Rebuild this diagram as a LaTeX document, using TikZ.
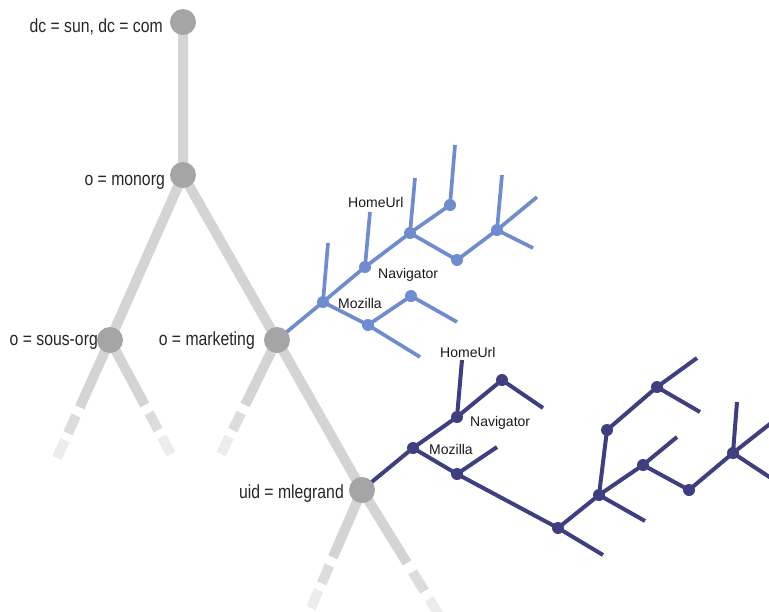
\documentclass[tikz,border=0pt]{standalone}
\usepackage{fontspec}
\setmainfont{Liberation Sans}
\newfontfamily\condfont[FakeStretch=0.83]{Liberation Sans}
\usetikzlibrary{calc}
\definecolor{treegrey}{RGB}{212,212,212}
\definecolor{nodegrey}{RGB}{165,165,165}
\definecolor{fadeA}{RGB}{220,220,220}
\definecolor{fadeB}{RGB}{236,236,236}
\definecolor{mozblue}{RGB}{112,140,208}
\definecolor{uidblue}{RGB}{62,62,128}
\pgfdeclarelayer{bg}
\pgfsetlayers{bg,main}

\begin{document}
\begin{tikzpicture}[x=1pt,y=-1pt,
  gnode/.style={circle,fill=nodegrey,minimum size=26pt,inner sep=0pt},
  bnode/.style={circle,fill=mozblue,minimum size=12pt,inner sep=0pt},
  dnode/.style={circle,fill=uidblue,minimum size=12pt,inner sep=0pt},
  glabel/.style={font=\condfont\fontsize{19}{19}\selectfont,text=black!85,inner sep=0pt,anchor=base east},
  tlabel/.style={font=\fontsize{14}{15}\selectfont,text=black!90,inner sep=0pt,anchor=base west},
  gedge/.style={treegrey,line width=10pt},
  bedge/.style={mozblue,line width=3.7pt},
  dedge/.style={uidblue,line width=4pt}]
  \useasboundingbox (0,0) rectangle (769,611);
  \clip (0,0) rectangle (769,611);

  % grey directory tree
  \node[gnode] (root) at (183,22) {};
  \node[gnode] (monorg) at (183,175) {};
  \node[gnode] (sousorg) at (110,340) {};
  \node[gnode] (mark) at (277,340) {};
  \node[gnode] (uid) at (362,490) {};
  \coordinate (sousL) at (57,458);
  \coordinate (sousR) at (171,454);
  \coordinate (markL) at (221,454);
  \coordinate (uidL) at (311,608);
  \coordinate (uidR) at (441,618);

  \node[glabel] (troot) at (163,32) {dc = sun, dc = com};
  \node[glabel] (tmonorg) at (165,185) {o = monorg};
  \node[glabel] (tsousorg) at (98,345) {o = sous-org};
  \node[glabel] (tmark) at (255,345) {o = marketing};
  \node[glabel] (tuid) at (344,498) {uid = mlegrand};

  % Mozilla entries under marketing
  \node[bnode] (bmoz) at (323,302) {};
  \node[bnode] (bnav) at (365,267) {};
  \node[bnode] (bn3) at (410,233) {};
  \node[bnode] (bn4) at (450,205) {};
  \node[bnode] (bn5) at (457,260) {};
  \node[bnode] (bn6) at (497,230) {};
  \node[bnode] (bn7) at (368,325) {};
  \node[bnode] (bn8) at (411,296) {};
  \coordinate (bl1) at (328,243);
  \coordinate (bl2) at (370,212);
  \coordinate (bl3) at (415,178);
  \coordinate (bl4) at (455,145);
  \coordinate (bl5) at (502,175);
  \coordinate (bl6) at (537,197);
  \coordinate (bl7) at (533,248);
  \coordinate (bl8) at (420,357);
  \coordinate (bl9) at (457,322);

  \node[tlabel] (bthome) at (348,207) {HomeUrl};
  \node[tlabel] (btnav) at (378,278) {Navigator};
  \node[tlabel] (btmoz) at (338,308) {Mozilla};

  % Mozilla entries under mlegrand
  \node[dnode] (dmoz) at (413,448) {};
  \node[dnode] (dnav) at (457,417) {};
  \node[dnode] (dn3) at (502,380) {};
  \node[dnode] (dn4) at (457,474) {};
  \node[dnode] (dn5) at (558,528) {};
  \node[dnode] (dn6) at (599,495) {};
  \node[dnode] (dn7) at (607,430) {};
  \node[dnode] (dn8) at (657,387) {};
  \node[dnode] (dn9) at (643,465) {};
  \node[dnode] (dn10) at (689,490) {};
  \node[dnode] (dn11) at (733,453) {};
  \coordinate (dl1) at (462,360);
  \coordinate (dl2) at (543,408);
  \coordinate (dl3) at (497,447);
  \coordinate (dl4) at (603,555);
  \coordinate (dl5) at (645,521);
  \coordinate (dl6) at (697,358);
  \coordinate (dl7) at (700,412);
  \coordinate (dl8) at (677,437);
  \coordinate (dl9) at (737,402);
  \coordinate (dl10) at (780,416);
  \coordinate (dl11) at (780,484);

  \node[tlabel] (dthome) at (440,357) {HomeUrl};
  \node[tlabel] (dtnav) at (470,426) {Navigator};
  \node[tlabel] (dtmoz) at (429,454) {Mozilla};

  \begin{pgfonlayer}{bg}
    \draw[gedge] (root.center) -- (monorg.center)
      (monorg.center) -- (sousorg.center)
      (monorg.center) -- (mark.center)
      (mark.center) -- (uid.center);
    \foreach \s/\e in {sousorg/sousL,sousorg/sousR,mark/markL,uid/uidL,uid/uidR}{
      \draw[gedge] (\s.center) -- ($(\s.center)!.57!(\e)$);
      \draw[gedge,fadeA] ($(\s.center)!.64!(\e)$) -- ($(\s.center)!.79!(\e)$);
      \draw[gedge,fadeB] ($(\s.center)!.85!(\e)$) -- (\e);
    }

    \draw[bedge] (mark.center) -- (bmoz.center) -- (bnav.center) -- (bn3.center) -- (bn4.center)
      (bn3.center) -- (bn5.center) -- (bn6.center)
      (bmoz.center) -- (bn7.center) -- (bn8.center);
    \draw[bedge] (bmoz.center) -- (bl1) (bnav.center) -- (bl2) (bn3.center) -- (bl3)
      (bn4.center) -- (bl4) (bn6.center) -- (bl5) (bn6.center) -- (bl6)
      (bn6.center) -- (bl7) (bn7.center) -- (bl8) (bn8.center) -- (bl9);

    \draw[dedge] (uid.center) -- (dmoz.center) -- (dnav.center) -- (dn3.center)
      (dmoz.center) -- (dn4.center) -- (dn5.center) -- (dn6.center) -- (dn7.center) -- (dn8.center)
      (dn6.center) -- (dn9.center) -- (dn10.center) -- (dn11.center);
    \draw[dedge] (dnav.center) -- (dl1) (dn3.center) -- (dl2) (dn4.center) -- (dl3)
      (dn5.center) -- (dl4) (dn6.center) -- (dl5) (dn8.center) -- (dl6)
      (dn8.center) -- (dl7) (dn9.center) -- (dl8) (dn11.center) -- (dl9)
      (dn11.center) -- (dl10) (dn11.center) -- (dl11);
  \end{pgfonlayer}

\end{tikzpicture}
\end{document}
